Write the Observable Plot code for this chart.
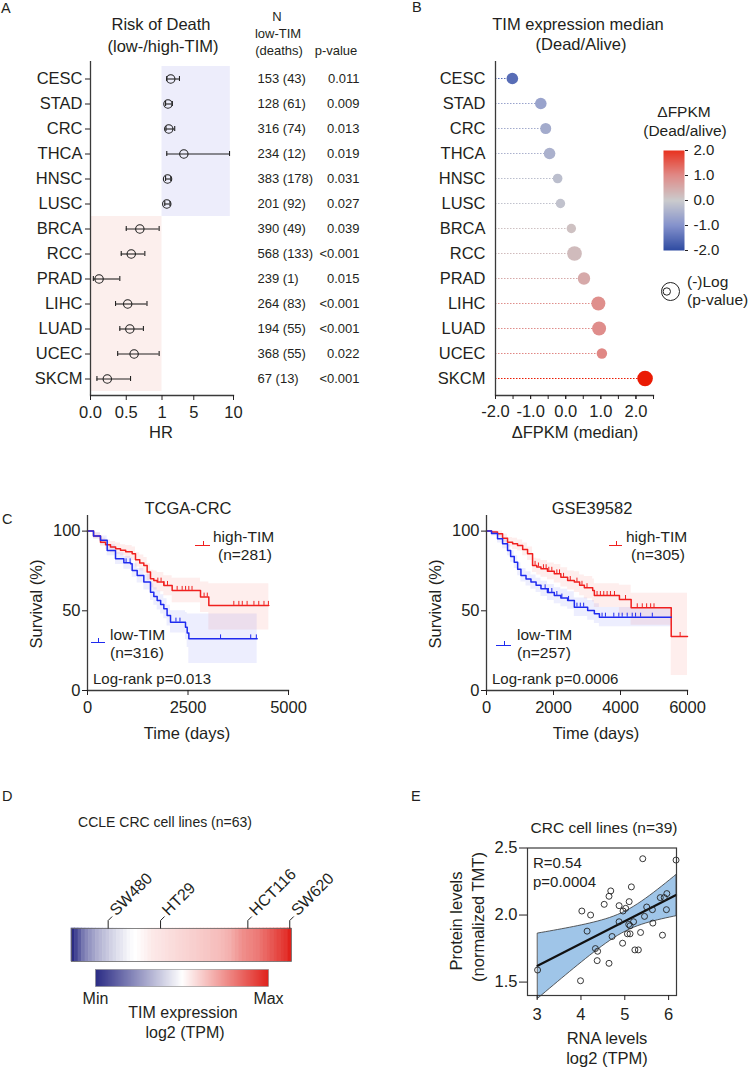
<!DOCTYPE html>
<html>
<head>
<meta charset="utf-8">
<script src="https://cdn.jsdelivr.net/npm/d3@7"></script>
<script src="https://cdn.jsdelivr.net/npm/@observablehq/plot@0.6"></script>
<style>
html, body { margin:0; padding:0; background:#fff; }
#root { position:relative; width:748px; height:1067px; overflow:hidden; background:#fff;
  font-family:"Liberation Sans", Arial, Helvetica, sans-serif; color:#231f20; }
.t { position:absolute; white-space:nowrap; line-height:1; }
</style>
</head>
<body>
<div id="root"></div>
<script>
// ---------------- Panel A : forest plot ----------------
const cancers = ["CESC","STAD","CRC","THCA","HNSC","LUSC","BRCA","RCC","PRAD","LIHC","LUAD","UCEC","SKCM"];
const hr     = [2.1, 1.75, 1.85, 3.75, 1.7, 1.6, 0.69, 0.57, 0.12, 0.52, 0.55, 0.61, 0.235];
const hrLow  = [1.6, 1.45, 1.5, 1.6, 1.45, 1.35, 0.50, 0.43, 0.04, 0.35, 0.41, 0.38, 0.09];
const hrHigh = [3.2, 2.3, 2.6, 9.5, 2.1, 2.0, 0.96, 0.76, 0.41, 0.79, 0.74, 0.96, 0.56];
const nLowDeaths = ["153 (43)","128 (61)","316 (74)","234 (12)","383 (178)","201 (92)","390 (49)","568 (133)","239 (1)","264 (83)","194 (55)","368 (55)","67 (13)"];
const pValues = ["0.011","0.009","0.013","0.019","0.031","0.027","0.039","<0.001","0.015","<0.001","<0.001","0.022","<0.001"];
const hrTicks = [0, 0.5, 1, 5, 10];
const hrTickLabels = ["0.0", "0.5", "1", "5", "10"];

// ---------------- Panel B : lollipop ----------------
const dFPKM   = [-1.52, -0.71, -0.57, -0.46, -0.23, -0.15, 0.16, 0.25, 0.52, 0.93, 0.95, 1.03, 2.26];
const negLogP = [2.10, 2.10, 1.89, 2.10, 1.44, 1.38, 1.38, 3.33, 2.40, 3.06, 3.06, 1.69, 3.80];
const fpkmTicks = [-2, -1, 0, 1, 2];
const fpkmMinorTicks = [-2, -1.5, -1, -0.5, 0, 0.5, 1, 1.5, 2, 2.5];
const fpkmColorStops = [-2, -1, 0, 1, 2];
const fpkmColors = ["#2e4ba1", "#8592cc", "#cbcbcd", "#e08a87", "#e8321f"];

// ---------------- Panel C : Kaplan-Meier ----------------
const tcgaHighT  = [0, 150, 323, 450, 572, 700, 821, 950, 1111, 1194, 1300, 1401, 1484, 1567, 1650, 1733, 1899, 2106, 2811, 3018, 4510];
const tcgaHighS  = [100, 97, 93, 91.5, 90, 89, 88, 87, 85.8, 82, 80, 78.5, 74.3, 70.1, 69, 68, 65.9, 62.8, 58.6, 53.4, 53.4];
const tcgaHighLo = [100, 95, 90.5, 88.5, 86.5, 85.5, 84.5, 83, 81.5, 77.5, 75, 73.5, 69, 64.5, 63, 62, 59.5, 55, 49, 38, 38];
const tcgaHighUp = [100, 99, 95.5, 94.5, 93.5, 92.5, 91.5, 91, 90, 86.5, 85, 83.5, 79.5, 75.5, 75, 74, 72, 70.5, 68, 67, 67];
const tcgaLowT   = [0, 150, 323, 490, 697, 904, 1070, 1111, 1236, 1401, 1567, 1650, 1733, 1820, 1899, 1980, 2065, 2438, 2480, 2521, 4221];
const tcgaLowS   = [100, 97, 94.2, 87.9, 82.6, 80.1, 79.5, 75.3, 72.2, 68, 61.7, 59, 56.5, 54, 51.3, 47, 42.9, 39.7, 36, 32.4, 32.4];
const tcgaLowLo  = [100, 95, 91.5, 84.5, 79, 76, 75.5, 71, 67.5, 63, 56.5, 53.5, 50.5, 48, 45, 40.5, 36, 32, 27, 17, 17];
const tcgaLowUp  = [100, 99, 97, 91.5, 86.5, 84, 83.5, 79.5, 76.5, 73, 67, 64.5, 62.5, 60, 57.5, 53.5, 50, 49, 48, 48, 48];
const tcgaHighCens = [1750, 1830, 1900, 1990, 2230, 2355, 2440, 2520, 2600, 2900, 2980, 3640, 3765, 3850, 3970, 4140, 4260, 4390, 4500];
const tcgaLowCens  = [960, 1060, 2200, 2300, 3310, 4060, 4200];

const gseHighT  = [0, 150, 329, 480, 628, 780, 927, 1080, 1226, 1375, 1500, 1626, 1820, 2024, 2220, 2422, 2622, 2780, 2921, 3170, 3220, 3968, 4318, 5514, 6000];
const gseHighS  = [100, 99.5, 98.3, 95.5, 93, 92, 91, 88.5, 85.8, 78.5, 77.5, 76.4, 74.8, 73.2, 71, 69, 68, 66, 64.5, 62.8, 59.6, 57.1, 51.9, 33.9, 33.9];
const gseHighLo = [100, 98.5, 96.5, 93, 90, 88.5, 87.5, 84.5, 81.5, 74, 72.5, 71, 69.5, 67.5, 65, 63, 61.5, 59.5, 57.5, 55.5, 52, 47, 41, 9.4, 9.4];
const gseHighUp = [100, 100, 100, 98, 96, 95.5, 94.5, 92.5, 90, 83, 82.5, 81.5, 80, 79, 77, 75, 74.5, 72.5, 71.5, 70, 67, 66, 61, 61, 61];
const gseLowT   = [0, 150, 329, 480, 628, 720, 828, 930, 1028, 1180, 1327, 1480, 1626, 1820, 2024, 2220, 2422, 2622, 3020, 3220, 3370, 5514];
const gseLowS   = [100, 98.5, 95.2, 92, 87.9, 84, 80.5, 76, 72.2, 70, 68, 66, 63.8, 61.5, 59.6, 58, 56.5, 52.3, 50.2, 48.1, 46, 46];
const gseLowLo  = [100, 97, 92.5, 89, 84.5, 80.5, 76.5, 72, 68, 65.5, 63.5, 61.5, 59, 56.5, 54.5, 52.5, 51, 46.5, 44, 42, 40, 40];
const gseLowUp  = [100, 100, 98, 95, 91.5, 87.5, 84.5, 80, 76.5, 74.5, 72.5, 70.5, 68.5, 66.5, 64.5, 63.5, 62, 58, 56.5, 54.5, 52, 52];
const gseHighCens = [1450, 1550, 1700, 1780, 1860, 1950, 2100, 2180, 2300, 2500, 2700, 2850, 3000, 3300, 3400, 3500, 3600, 3700, 3820, 4150, 4500, 4650, 4780, 4900, 5000, 5780];
const gseLowCens  = [1750, 1850, 1950, 2100, 2250, 2450, 2700, 2800, 2900, 3450, 3550, 3800, 3950, 4050, 4200, 4350, 4450, 4600, 4950];
const tcgaTimeTicks = [0, 2500, 5000];
const gseTimeTicks = [0, 2000, 4000, 6000];
const survTicks = [0, 50, 100];

// ---------------- Panel D : CCLE heatmap ----------------
const ccleTIM = [2.90, 3.10, 3.31, 3.51, 3.65, 3.75, 3.85, 3.95, 4.02, 4.09, 4.16, 4.23, 4.29, 4.36, 4.40, 4.46,
  4.53, 4.57, 4.60, 4.63, 4.67, 4.70, 4.74, 4.77, 4.79, 4.80, 4.82, 4.84, 4.86, 4.87, 4.89, 4.91, 4.92, 4.94,
  4.96, 4.97, 4.99, 5.01, 5.03, 5.04, 5.08, 5.09, 5.11, 5.14, 5.18, 5.21, 5.28, 5.35, 5.42, 5.48, 5.52, 5.55,
  5.59, 5.62, 5.69, 5.76, 5.82, 5.89, 5.96, 6.03, 6.10, 6.16, 6.30];
const namedLines = ["SW480", "HT29", "HCT116", "SW620"];
const namedRanks = [10, 25, 50, 62];
const heatColors = ["#2b2c85", "#ffffff", "#e0221c"];

// ---------------- Panel E : RNA vs protein ----------------
const rnaLevels = [3.01, 3.99, 4.02, 4.22, 4.14, 4.33, 4.38, 4.37, 4.53, 4.64, 4.68, 4.71, 4.64, 4.87, 4.87, 4.96,
  5.02, 4.95, 5.06, 5.10, 5.15, 5.12, 5.20, 5.12, 5.23, 5.31, 5.36, 5.41, 5.45, 5.50, 5.63, 5.64, 5.81, 5.86,
  5.90, 5.96, 5.95, 6.17, 5.09];
const proteinLevels = [1.59, 1.51, 2.03, 2.00, 1.88, 1.75, 1.73, 1.66, 2.08, 2.14, 2.18, 1.84, 1.64, 2.07, 1.95, 2.03,
  2.05, 1.79, 1.86, 2.10, 2.21, 1.92, 1.95, 1.86, 1.74, 1.74, 1.87, 2.42, 1.99, 2.06, 2.04, 1.94, 2.13, 1.85,
  2.13, 2.16, 2.04, 2.41, 1.93];
const rnaTicks = [3, 4, 5, 6];
const proteinTicks = [1.5, 2.0, 2.5];

// ================= rendering =================
const root = document.getElementById("root");
const FONT = '"Liberation Sans", Arial, Helvetica, sans-serif';
const INK = "#231f20";
const AX = "#3a3a3a";
const RED = "#f0201f";
const BLUE = "#1f2bef";
const baseStyle = {fontFamily: FONT, fontSize: "16.5px", color: INK, background: "none", overflow: "visible"};

function mount(svg, left, top) {
  svg.style.position = "absolute";
  svg.style.left = left + "px";
  svg.style.top = top + "px";
  root.appendChild(svg);
}
function txt(text, x, y, {size = 16.5, anchor = "middle", rotate = 0} = {}) {
  const d = document.createElement("div");
  d.className = "t";
  d.textContent = text;
  d.style.fontSize = size + "px";
  d.style.left = x + "px";
  d.style.top = y + "px";
  const tx = anchor === "middle" ? "-50%" : anchor === "end" ? "-100%" : "0";
  d.style.transform = `translate(${tx},-50%)` + (rotate ? ` rotate(${rotate}deg)` : "");
  root.appendChild(d);
}
function legendLine(x1, x2, y, color) {
  const l = document.createElement("div");
  l.style.cssText = `position:absolute;left:${x1}px;top:${y}px;width:${x2 - x1}px;height:0;border-top:1.4px solid ${color};`;
  root.appendChild(l);
  const k = document.createElement("div");
  k.style.cssText = `position:absolute;left:${(x1 + x2) / 2}px;top:${y - 4}px;width:0;height:4px;border-left:1.2px solid ${color};`;
  root.appendChild(k);
}

// ---- Panel A ----
const forest = cancers.map((c, i) => ({cancer: c, hr: hr[i], lo: hrLow[i], hi: hrHigh[i], n: nLowDeaths[i], p: pValues[i]}));
const plotA = Plot.plot({
  width: 374, height: 430, marginLeft: 90, marginRight: 141, marginTop: 61, marginBottom: 35,
  style: baseStyle,
  x: {type: "linear", domain: [0, 1, 10]},
  y: {domain: cancers, paddingInner: 0, paddingOuter: 0.18},
  marks: [
    Plot.barX(forest, {y: "cancer", x1: d => d.hr > 1 ? 1 : 0, x2: d => d.hr > 1 ? 9.6 : 1,
      fill: d => d.hr > 1 ? "#ededfb" : "#fcefed"}),
    Plot.ruleY(forest, {y: "cancer", x1: "lo", x2: "hi", stroke: "#222", strokeWidth: 1.1}),
    Plot.tickX(forest, {x: "lo", y: "cancer", insetTop: 10, insetBottom: 10, stroke: "#222", strokeWidth: 1.1}),
    Plot.tickX(forest, {x: "hi", y: "cancer", insetTop: 10, insetBottom: 10, stroke: "#222", strokeWidth: 1.1}),
    Plot.dot(forest, {x: "hr", y: "cancer", r: 4.2, stroke: "#222", fill: "none", strokeWidth: 1.1}),
    Plot.text(forest, {y: "cancer", text: "n", frameAnchor: "right", dx: 24, textAnchor: "start", fontSize: 13}),
    Plot.text(forest, {y: "cancer", text: "p", frameAnchor: "right", dx: 126, textAnchor: "end", fontSize: 13}),
    Plot.ruleX([0], {stroke: AX, strokeWidth: 1.3}),
    Plot.frame({anchor: "bottom", stroke: AX, strokeWidth: 1.3}),
    Plot.axisY({tickSize: 5, tickPadding: 3, label: null}),
    Plot.axisX({ticks: hrTicks, tickFormat: d => hrTickLabels[hrTicks.indexOf(d)], tickSize: 5, tickPadding: 6, label: null})
  ]
});
mount(plotA, 0, 0);
txt("A", 1, 8, {size: 14.5, anchor: "start"});
txt("Risk of Death", 161, 24);
txt("(low-/high-TIM)", 163, 46);
txt("N", 277, 16, {size: 13});
txt("low-TIM", 278, 33, {size: 13});
txt("(deaths)", 279, 50, {size: 13});
txt("p-value", 336, 50, {size: 13});
txt("HR", 161, 432);

// ---- Panel B ----
const lolli = cancers.map((c, i) => ({cancer: c, d: dFPKM[i], nlp: negLogP[i]}));
const colorB = {type: "linear", domain: fpkmColorStops, range: fpkmColors};
const plotB = Plot.plot({
  width: 290, height: 430, marginLeft: 115, marginRight: 17, marginTop: 61, marginBottom: 35,
  style: baseStyle,
  x: {domain: [-2, 2.5]},
  y: {domain: cancers, paddingInner: 0, paddingOuter: 0.18},
  color: colorB,
  r: {domain: [0, 4], range: [0, 8]},
  marks: [
    Plot.ruleY(lolli, {y: "cancer", x1: -2, x2: "d", stroke: "d", strokeWidth: 1, strokeDasharray: "1.5,1.5"}),
    Plot.dot(lolli, {x: "d", y: "cancer", r: "nlp", fill: "d"}),
    Plot.ruleX([-2], {stroke: AX, strokeWidth: 1.3}),
    Plot.frame({anchor: "bottom", stroke: AX, strokeWidth: 1.3}),
    Plot.axisY({tickSize: 0, tickPadding: 10, label: null}),
    Plot.axisX({ticks: fpkmMinorTicks, tickFormat: () => "", tickSize: 4, label: null}),
    Plot.axisX({ticks: fpkmTicks, tickFormat: d => d.toFixed(1), tickSize: 4, tickPadding: 6, label: null})
  ]
});
mount(plotB, 380, 0);
txt("B", 412, 7, {size: 14.5, anchor: "start"});
txt("TIM expression median", 578, 24);
txt("(Dead/Alive)", 581, 44);
txt("ΔFPKM (median)", 575, 432);

const legB = Plot.plot({
  width: 93, height: 170, marginLeft: 8, marginRight: 64, marginTop: 10, marginBottom: 60,
  style: {...baseStyle, fontSize: "15px"},
  x: {domain: [0, 1], axis: null},
  y: {domain: [-2, 2], axis: null},
  color: colorB,
  marks: [
    Plot.raster({fill: (x, y) => y, x1: 0, x2: 1, y1: -2, y2: 2, width: 1, height: 100}),
    Plot.axisY({anchor: "right", ticks: fpkmTicks, tickFormat: d => d.toFixed(1), tickSize: 3, tickPadding: 6, label: null}),
    Plot.dot([0], {frameAnchor: "bottom-left", dx: 7, dy: 41, r: 9, stroke: "#222", fill: "none", strokeWidth: 1}),
    Plot.dot([0], {frameAnchor: "bottom-left", dx: 3.3, dy: 41, r: 3.7, stroke: "#222", fill: "none", strokeWidth: 1})
  ]
});
mount(legB, 655, 140);
txt("ΔFPKM", 684, 112, {size: 15.5});
txt("(Dead/alive)", 685, 131, {size: 15.5});
txt("(-)Log", 687, 282, {size: 15.5, anchor: "start"});
txt("(p-value)", 687, 300, {size: 15.5, anchor: "start"});

// ---- Panel C ----
function stepAt(ts, ss, t) { let v = ss[0]; for (let i = 0; i < ts.length; i++) if (ts[i] <= t) v = ss[i]; return v; }
function kmPlot({domain, ticks, marginLeft, marginRight, high, low, highCens, lowCens}) {
  const mk = c => c.t.map((t, i) => ({t, s: c.s[i], lo: c.lo[i], up: c.up[i]}));
  const hi = mk(high), lo = mk(low);
  const hc = highCens.map(t => ({t, s: stepAt(high.t, high.s, t)}));
  const lc = lowCens.map(t => ({t, s: stepAt(low.t, low.s, t)}));
  return Plot.plot({
    width: 374, height: 250, marginLeft, marginRight, marginTop: 15, marginBottom: 60,
    style: baseStyle,
    x: {domain}, y: {domain: [0, 109.8]},
    marks: [
      Plot.areaY(hi, {x: "t", y1: "lo", y2: "up", curve: "step-after", fill: RED, fillOpacity: 0.08}),
      Plot.areaY(lo, {x: "t", y1: "lo", y2: "up", curve: "step-after", fill: BLUE, fillOpacity: 0.08}),
      Plot.line(hi, {x: "t", y: "s", curve: "step-after", stroke: RED, strokeWidth: 1.5}),
      Plot.line(lo, {x: "t", y: "s", curve: "step-after", stroke: BLUE, strokeWidth: 1.5}),
      Plot.ruleX(hc, {x: "t", y1: "s", y2: d => d.s + 2.5, stroke: RED, strokeWidth: 1}),
      Plot.ruleX(lc, {x: "t", y1: "s", y2: d => d.s + 2.5, stroke: BLUE, strokeWidth: 1}),
      Plot.ruleX([0], {stroke: AX, strokeWidth: 1.3}),
      Plot.frame({anchor: "bottom", stroke: AX, strokeWidth: 1.3}),
      Plot.axisY({ticks: survTicks, tickSize: 5, tickPadding: 2, label: null}),
      Plot.axisX({ticks, tickFormat: "d", tickSize: 5, tickPadding: 6, label: null})
    ]
  });
}
mount(kmPlot({domain: [0, 5000], ticks: tcgaTimeTicks, marginLeft: 87, marginRight: 86,
  high: {t: tcgaHighT, s: tcgaHighS, lo: tcgaHighLo, up: tcgaHighUp},
  low: {t: tcgaLowT, s: tcgaLowS, lo: tcgaLowLo, up: tcgaLowUp},
  highCens: tcgaHighCens, lowCens: tcgaLowCens}), 0, 500);
mount(kmPlot({domain: [0, 6000], ticks: gseTimeTicks, marginLeft: 112, marginRight: 61,
  high: {t: gseHighT, s: gseHighS, lo: gseHighLo, up: gseHighUp},
  low: {t: gseLowT, s: gseLowS, lo: gseLowLo, up: gseLowUp},
  highCens: gseHighCens, lowCens: gseLowCens}), 374, 500);

txt("C", 2, 519, {size: 14.5, anchor: "start"});
txt("TCGA-CRC", 188, 508);
txt("GSE39582", 592, 508);
txt("Survival (%)", 36, 604, {rotate: -90});
txt("Survival (%)", 435, 604, {rotate: -90});
txt("Time (days)", 187, 733);
txt("Time (days)", 596, 733);
legendLine(195, 210, 545, RED);
txt("high-TIM", 213, 537, {size: 15.5, anchor: "start"});
txt("(n=281)", 218, 555, {size: 15.5, anchor: "start"});
legendLine(91, 105, 642, BLUE);
txt("low-TIM", 110, 635, {size: 15.5, anchor: "start"});
txt("(n=316)", 110, 653, {size: 15.5, anchor: "start"});
txt("Log-rank p=0.013", 93, 678, {size: 15, anchor: "start"});
legendLine(609, 622, 545, RED);
txt("high-TIM", 626, 537, {size: 15.5, anchor: "start"});
txt("(n=305)", 631, 555, {size: 15.5, anchor: "start"});
legendLine(496, 511, 645, BLUE);
txt("low-TIM", 517, 635, {size: 15.5, anchor: "start"});
txt("(n=257)", 517, 653, {size: 15.5, anchor: "start"});
txt("Log-rank p=0.0006", 492, 678, {size: 15, anchor: "start"});

// ---- Panel D ----
const heat = ccleTIM.map((v, i) => ({i, v}));
const heatMin = d3.min(ccleTIM), heatMax = d3.max(ccleTIM);
const named = namedLines.map((name, k) => ({name, i: namedRanks[k]}));
const leader = {draw(ctx) { ctx.moveTo(0, 0); ctx.lineTo(0, -8); ctx.lineTo(4, -12); }};
const plotD = Plot.plot({
  width: 374, height: 130, marginLeft: 71, marginRight: 83, marginTop: 88, marginBottom: 9,
  style: {...baseStyle, fontSize: "16px"},
  x: {type: "band", domain: heat.map(d => d.i), padding: 0, axis: null},
  color: {type: "linear", domain: [heatMin, (heatMin + heatMax) / 2, heatMax], range: heatColors},
  marks: [
    Plot.cell(heat, {x: "i", fill: "v", inset: -0.3}),
    Plot.frame({stroke: "#666", strokeWidth: 0.8}),
    Plot.dot(named, {x: "i", frameAnchor: "top", symbol: leader, stroke: "#222", fill: "none", strokeWidth: 1}),
    Plot.text(named, {x: "i", text: "name", frameAnchor: "top", rotate: -45, textAnchor: "start",
      lineAnchor: "bottom", dx: 8, dy: -12})
  ]
});
mount(plotD, 0, 840);
const legD = Plot.plot({
  width: 374, height: 50, marginLeft: 95, marginRight: 106, marginTop: 9, marginBottom: 24,
  style: {...baseStyle, fontSize: "16px"},
  x: {domain: [0, 1]}, y: {domain: [0, 1], axis: null},
  color: {type: "linear", domain: [0, 0.5, 1], range: heatColors},
  marks: [
    Plot.raster({fill: (x, y) => x, x1: 0, x2: 1, y1: 0, y2: 1, width: 200, height: 1}),
    Plot.frame({stroke: "#888", strokeWidth: 0.6}),
    Plot.axisX({ticks: [0, 1], tickFormat: d => d === 0 ? "Min" : "Max", tickSize: 0, tickPadding: 6, label: null})
  ]
});
mount(legD, 0, 960);
txt("D", 2, 796, {size: 14.5, anchor: "start"});
txt("CCLE CRC cell lines (n=63)", 165, 822, {size: 14});
txt("TIM expression", 183, 1013, {size: 16});
txt("log2 (TPM)", 185, 1033, {size: 16});

// ---- Panel E ----
const cells = rnaLevels.map((x, i) => ({rna: x, protein: proteinLevels[i]}));
const plotE = Plot.plot({
  width: 374, height: 200, marginLeft: 153, marginRight: 72, marginTop: 17.5, marginBottom: 35,
  style: baseStyle,
  x: {domain: [2.78, 6.18]}, y: {domain: [1.4, 2.5]},
  marks: [
    Plot.linearRegressionY(cells, {x: "rna", y: "protein", ci: 0.99, fill: "#9fc5e8", fillOpacity: 1, stroke: "#111", strokeWidth: 2.2}),
    Plot.dot(cells, {x: "rna", y: "protein", r: 3, stroke: "#222", fill: "none", strokeWidth: 0.9}),
    Plot.frame({stroke: AX, strokeWidth: 1.2}),
    Plot.axisX({ticks: rnaTicks, tickFormat: d => String(d), tickSize: 5, tickPadding: 8, label: null}),
    Plot.axisY({ticks: proteinTicks, tickFormat: d => d.toFixed(1), tickSize: 8, tickPadding: 2, label: null})
  ]
});
// give the confidence band a thin dark outline as in the original
plotE.querySelectorAll('g[aria-label="linear-regression"] path').forEach(p => {
  if (p.getAttribute("stroke") === "none") { p.setAttribute("stroke", "#333"); p.setAttribute("stroke-width", "0.8"); }
});
mount(plotE, 374, 830);
txt("E", 411, 796, {size: 14.5, anchor: "start"});
txt("CRC cell lines (n=39)", 604, 828, {size: 15.5});
txt("R=0.54", 533, 862, {size: 15, anchor: "start"});
txt("p=0.0004", 533, 881, {size: 15, anchor: "start"});
txt("Protein levels", 456, 921, {rotate: -90});
txt("(normalized TMT)", 478, 917, {rotate: -90});
txt("RNA levels", 607, 1038);
txt("log2 (TPM)", 607, 1058);
</script>
</body>
</html>
